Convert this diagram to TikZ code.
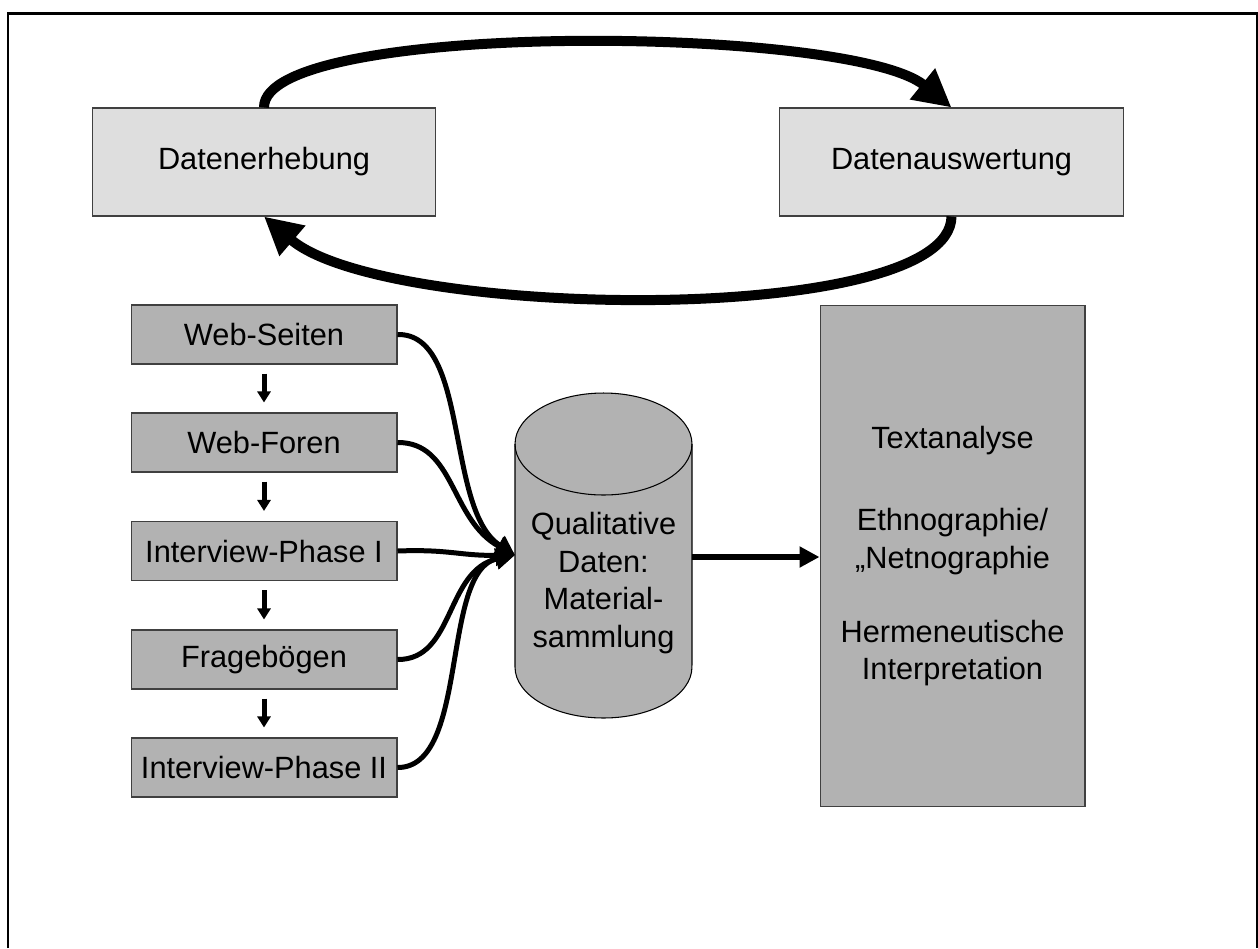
\documentclass[tikz,border=0pt]{standalone}
\usepackage{fontspec}
\setmainfont{Liberation Sans}
\usetikzlibrary{arrows.meta}
\begin{document}
\begin{tikzpicture}[x=0.02cm, y=-0.02cm,
    every node/.style={font=\fontsize{17.5}{21.5}\selectfont, inner sep=0pt, align=center},
    hellbox/.style={draw=black!75, line width=0.6pt, fill=black!13, minimum width=6.88cm, minimum height=2.16cm},
    phase/.style={draw=black!75, line width=0.6pt, fill=black!30, minimum width=5.32cm, minimum height=1.18cm},
    kreis/.style={line width=0.2cm, -{Triangle[length=0.75cm,width=0.75cm]}},
    zulauf/.style={line width=0.1cm, -{Triangle[length=0.38cm,width=0.4cm]}},
    schritt/.style={line width=0.1cm, -{Triangle[length=0.22cm,width=0.26cm]}, shorten <=0.18cm, shorten >=0.2cm}]
    \useasboundingbox (0,0) rectangle (1258,948);
    \draw[line width=0.06cm] (8,948) -- (8,13) -- (1257,13) -- (1257,948);
    % Kreislauf oben
    \node[hellbox] (erhebung) at (264,162) {Datenerhebung};
    \node[hellbox] (auswertung) at (951.5,162) {Datenauswertung};
    \draw[kreis] (erhebung.north) .. controls (263,20) and (850,25) .. (auswertung.north);
    \draw[kreis] (auswertung.south) .. controls (950,328) and (385,320) .. (erhebung.south);
    % Phasen links
    \node[phase] (seiten) at (264,334.5) {Web-Seiten};
    \node[phase] (foren) at (264,442.5) {Web-Foren};
    \node[phase] (interviewA) at (264,551) {Interview-Phase I};
    \node[phase] (frageb) at (264,659.5) {Fragebögen};
    \node[phase] (interviewB) at (264,767.5) {Interview-Phase II};
    \foreach \a/\b in {seiten/foren, foren/interviewA, interviewA/frageb, frageb/interviewB}
        \draw[schritt] (\a.south) -- (\b.north);
    % Datenspeicher
    \fill[black!30] (515,444) -- (515,667) arc[start angle=180, end angle=360, x radius=1.77cm, y radius=1.02cm] -- (692,444) -- cycle;
    \fill[black!30] (603.5,444) ellipse[x radius=1.77cm, y radius=1.02cm];
    \draw[line width=0.6pt] (515,444) -- (515,667) arc[start angle=180, end angle=360, x radius=1.77cm, y radius=1.02cm] -- (692,444);
    \draw[line width=0.6pt] (603.5,444) ellipse[x radius=1.77cm, y radius=1.02cm];
    \node (daten) at (603.5,583) {Qualitative\\Daten:\\Material-\\sammlung};
    \coordinate (daten-ein) at (515,555);
    \coordinate (daten-aus) at (692,557);
    % Auswertung rechts
    \node[phase, minimum width=5.3cm, minimum height=10.04cm] (analyse) at (952.5,556)
        {Textanalyse\\[25.5pt]Ethnographie/\\„Netnographie\\[20.5pt]Hermeneutische\\Interpretation};
    \draw[zulauf] (seiten.east) .. controls (470,333) and (445,510) .. (daten-ein);
    \draw[zulauf] (foren.east) .. controls (455,442) and (450,520) .. (daten-ein);
    \draw[zulauf] (interviewA.east) .. controls (450,549) and (460,556) .. (daten-ein);
    \draw[zulauf] (frageb.east) .. controls (455,660) and (445,570) .. (daten-ein);
    \draw[zulauf] (interviewB.east) .. controls (470,768) and (440,570) .. (daten-ein);
    \draw[line width=0.12cm, -{Triangle[length=0.4cm,width=0.4cm]}] (daten-aus) -- (daten-aus -| analyse.west);
\end{tikzpicture}
\end{document}
